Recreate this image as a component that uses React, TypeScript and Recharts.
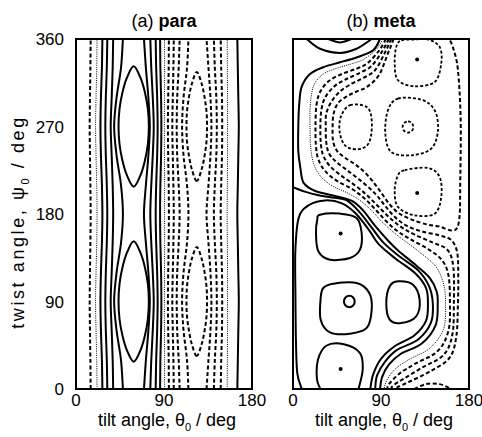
import React from 'react';
import { ScatterChart, Scatter, XAxis, YAxis, ReferenceArea } from 'recharts';

type P = [number, number];

const FONT = '"Liberation Sans", Arial, Helvetica, sans-serif';
const X_TICKS = [0, 90, 180];
const Y_TICKS = [0, 90, 180, 270, 360];
const PANEL_TITLES = [['(a) ', 'para'], ['(b) ', 'meta']];

// ---------- (a) para : theta of each contour at these psi values ----------
const PSI = [0, 30, 60, 90, 120, 150, 180, 210, 240, 270, 300, 330, 360];

const PARA_SOLID_THETA: number[][] = [
  [27, 26.5, 25.5, 25, 25.5, 26.5, 27, 26.5, 25.5, 25, 25.5, 26.5, 27],
  [32, 31.5, 30.5, 30, 30.5, 31.5, 32, 31.5, 30.5, 30, 30.5, 31.5, 32],
  [38, 37.5, 36.5, 35.5, 36.5, 37.5, 38, 37.5, 36.5, 35.5, 36.5, 37.5, 38],
  [48, 46, 41.5, 39, 41.5, 46, 48, 46, 41.5, 39, 41.5, 46, 48],
  [69.5, 71.5, 74, 75.5, 74, 71.5, 69.5, 71.5, 74, 75.5, 74, 71.5, 69.5],
  [76, 77, 78.5, 79.5, 78.5, 77, 76, 77, 78.5, 79.5, 78.5, 77, 76],
  [81.5, 82, 83, 83.5, 83, 82, 81.5, 82, 83, 83.5, 83, 82, 81.5],
  [86, 86.3, 87, 87.3, 87, 86.3, 86, 86.3, 87, 87.3, 87, 86.3, 86],
  [165, 165.5, 166, 166.5, 166, 165.5, 165, 165.5, 166, 166.5, 166, 165.5, 165],
];
const PARA_DASHED_THETA: number[][] = [
  [15, 14.7, 14.3, 14, 14.3, 14.7, 15, 14.7, 14.3, 14, 14.3, 14.7, 15],
  [95, 94.8, 94.3, 94, 94.3, 94.8, 95, 94.8, 94.3, 94, 94.3, 94.8, 95],
  [100, 99.6, 99, 98.5, 99, 99.6, 100, 99.6, 99, 98.5, 99, 99.6, 100],
  [106, 105, 103.5, 103, 103.5, 105, 106, 105, 103.5, 103, 103.5, 105, 106],
  [115, 113.5, 110, 108.5, 110, 113.5, 115, 113.5, 110, 108.5, 110, 113.5, 115],
  [133.5, 135.5, 137.5, 138.5, 137.5, 135.5, 133.5, 135.5, 137.5, 138.5, 137.5, 135.5, 133.5],
  [141, 142, 143.5, 144, 143.5, 142, 141, 142, 143.5, 144, 143.5, 142, 141],
  [148, 148.5, 149.3, 149.5, 149.3, 148.5, 148, 148.5, 149.3, 149.5, 149.3, 148.5, 148],
];
const PARA_DOTTED_THETA: number[][] = [
  [21.5, 21.2, 20.5, 20, 20.5, 21.2, 21.5, 21.2, 20.5, 20, 20.5, 21.2, 21.5],
  [90.6, 90.6, 90.5, 90.4, 90.5, 90.6, 90.6, 90.6, 90.5, 90.4, 90.5, 90.6, 90.6],
  [154.6, 154.8, 155, 155, 155, 154.8, 154.6, 154.8, 155, 155, 155, 154.8, 154.6],
];
const PARA_SOLID_LOOPS: P[][] = [
  [[59, 28], [52, 40], [47.5, 55], [44.5, 72], [43.5, 90], [44.5, 108], [47.5, 125], [52, 140], [59, 152], [66, 140], [70.5, 125], [73.5, 108], [74.5, 90], [73.5, 72], [70.5, 55], [66, 40]],
  [[59, 208], [52, 220], [47.5, 235], [44.5, 252], [43.5, 270], [44.5, 288], [47.5, 305], [52, 320], [59, 332], [66, 320], [70.5, 305], [73.5, 288], [74.5, 270], [73.5, 252], [70.5, 235], [66, 220]],
];
const PARA_DASHED_LOOPS: P[][] = [
  [[123.5, 34], [118.5, 46], [115.5, 60], [113.5, 75], [113, 90], [113.5, 105], [115.5, 120], [118.5, 134], [123.5, 146], [128.5, 134], [131.5, 120], [133.5, 105], [134, 90], [133.5, 75], [131.5, 60], [128.5, 46]],
  [[123.5, 214], [118.5, 226], [115.5, 240], [113.5, 255], [113, 270], [113.5, 285], [115.5, 300], [118.5, 314], [123.5, 326], [128.5, 314], [131.5, 300], [133.5, 285], [134, 270], [133.5, 255], [131.5, 240], [128.5, 226]],
];

// ---------- (b) meta : contour paths as [theta, psi] ----------
const META_SOLID_OPEN: P[][] = [
  [[9, 0], [4.4, 16], [3, 50], [2.5, 95], [2.4, 142], [5.8, 176], [16, 189], [33, 194], [50, 191], [63.7, 181], [77.4, 164], [87.6, 149], [105, 134], [125, 119], [136, 104], [138, 88], [136, 70], [124, 55], [104, 44], [90, 31], [82, 15], [79, 0]],
  [[14, 360], [27.6, 350], [48, 345.7], [65, 350], [80.5, 360]],
  [[0, 207.5], [4, 206], [12, 203], [25, 199.5], [40, 197], [55, 194], [68, 182], [80.5, 166], [92.5, 150.5], [108, 137], [128, 122], [139, 106], [143, 88], [141, 68], [128, 51], [106, 40], [94, 28], [86, 14], [84, 0]],
  [[89, 360], [82, 348.5], [65, 341], [48, 336], [31, 331], [17.4, 324], [8.9, 311], [6.4, 293.5], [5.4, 270], [5.4, 245], [7.5, 227.7], [10.9, 212], [22.8, 203.7], [43, 198.6], [60.3, 193.4], [72.3, 183], [84, 167.7], [97.8, 152], [108, 142], [126, 127], [140, 114], [147, 100], [148, 88], [146, 66], [132, 47], [110, 36], [98, 25], [91, 12], [89, 0]],
  [[28, 0], [24.5, 10], [25.5, 30], [34, 44.5], [52, 46], [68.5, 37], [71.3, 20], [67, 0]],
  [[36, 360], [48, 356.5], [60, 360]],
];
const META_SOLID_LOOPS: P[][] = [
  [[57.6, 95.8], [61.5, 94.1], [63.1, 90], [61.5, 85.9], [57.6, 84.2], [53.7, 85.9], [52.1, 90], [53.7, 94.1]],
  [[41.2, 108.3], [65.1, 109], [78, 98.8], [80.5, 81.6], [75.4, 62.8], [58.3, 56.9], [37.8, 58.3], [28.3, 71.3], [28.3, 93.6], [31, 103.9]],
  [[27.6, 179.3], [48, 180.4], [65, 176], [70.2, 160.5], [68.5, 143.3], [58.3, 134.8], [37.8, 133], [25.9, 141.7], [23.5, 160.5], [24.8, 174]],
  [[107.4, 110.8], [122.7, 107.3], [129.5, 91.9], [126, 74.8], [110.7, 67.9], [98.9, 71.3], [95.4, 88.5], [98.9, 105.7]],
];
const META_DOTTED_OPEN: P[][] = [
  [[92, 360], [85, 349], [72, 339], [60, 334.5], [45, 330], [31, 324], [22, 314], [18.5, 300], [17.4, 285], [17.4, 270], [18, 250], [21, 232], [28, 219], [40, 209], [55, 202], [67, 195], [79, 185], [92, 171], [108, 157], [128, 142], [146, 126], [154, 108], [156, 88], [154, 62], [140, 42], [118, 30], [104, 20], [96, 9], [93, 0]],
];
const META_DASHED_OPEN: P[][] = [
  [[95, 360], [88, 348], [76, 335], [65, 329.5], [50, 324], [37, 317], [28, 306], [24, 292], [23, 270], [23.5, 250], [26, 236], [33, 224], [45, 214], [60, 206], [72, 197], [83, 186], [94, 174], [106, 163], [120, 154], [138, 144], [152, 133], [159, 117], [160.5, 88], [159, 60], [148, 39], [125, 26], [109, 16], [99, 6], [96, 0]],
  [[98, 360], [91, 347], [80, 332], [65, 323.6], [53, 318], [42, 311], [33, 300], [29, 287], [28, 270], [28.5, 252], [31, 240], [38, 229], [50, 219], [64, 209], [76, 199], [87, 188], [98, 177], [110, 167], [124, 159], [142, 151], [158, 143], [164, 125], [164.5, 88], [163, 56], [154, 35], [132, 22], [114, 11], [103, 4], [100, 0]],
  [[100.5, 360], [94, 346], [84, 328], [72, 320], [60, 314], [48, 306], [39, 295], [34, 283], [33.5, 270], [34, 254], [37, 242], [45, 233], [58, 223], [72, 212], [84, 201], [93, 190], [103, 178], [116, 168], [132, 162], [150, 158], [162, 153], [168, 140], [169, 115], [168.7, 88], [167, 54], [160, 32], [140, 18], [120, 8], [107, 2], [104, 0]],
  [[103, 360], [97, 345], [88, 323], [76, 311], [65, 306], [55, 301], [46, 294], [41.5, 283], [40.5, 270], [41, 255], [45, 245], [53, 238], [65, 230], [77, 219], [88, 205], [98, 191], [108, 181], [122, 174], [138, 169], [150, 167], [162, 163], [168, 166], [170.5, 180], [171, 210], [171.5, 276], [168.7, 328], [164, 350], [160, 360]],
  [[124, 0], [136, 5], [150, 5], [162, 0]],
];
const META_DASHED_LOOPS: P[][] = [
  [[58.3, 291.9], [75.4, 290], [80.5, 276.4], [78.7, 255.9], [70.2, 247.2], [54.9, 249], [48, 262.7], [48.8, 279.8]],
  [[110.7, 358.5], [125, 359.5], [138, 359.5], [150, 351.9], [151.6, 334.7], [144.9, 315.8], [124.4, 311.4], [107.4, 317.6], [104, 334.7], [105.6, 351.9]],
  [[107.4, 298.7], [131.2, 297.6], [144.9, 286.7], [148.3, 266.2], [141.4, 247.2], [121, 240.4], [100.5, 243.8], [94.4, 262.7], [97.1, 286.7]],
  [[117.6, 275.3], [121.5, 273.6], [123.1, 269.5], [121.5, 265.4], [117.6, 263.7], [113.7, 265.4], [112.1, 269.5], [113.7, 273.6]],
  [[114.2, 225], [138, 227.4], [150, 218], [151.6, 197.5], [144.9, 180.3], [124.4, 178.7], [107.4, 187.2], [104, 204.4], [107.4, 219.9]],
];
const META_DOTS: P[] = [[48.7, 160], [48.7, 20.6], [127, 339], [127, 201.6]];

// ---------- curve factories (Catmull-Rom) ----------
type Ctx = { moveTo: (x: number, y: number) => void; bezierCurveTo: (a: number, b: number, c: number, d: number, e: number, f: number) => void; closePath: () => void };
const makeCurve = (closed: boolean) => (context: Ctx) => {
  let pts: number[][] = [];
  return {
    areaStart() {},
    areaEnd() {},
    lineStart() { pts = []; },
    point(x: number, y: number) { pts.push([+x, +y]); },
    lineEnd() {
      const n = pts.length;
      if (!n) return;
      context.moveTo(pts[0][0], pts[0][1]);
      const segs = closed ? n : n - 1;
      for (let i = 0; i < segs; i++) {
        const g = (k: number) => closed ? pts[((k % n) + n) % n] : pts[Math.max(0, Math.min(n - 1, k))];
        const p0 = g(i - 1), p1 = g(i), p2 = g(i + 1), p3 = g(i + 2);
        context.bezierCurveTo(
          p1[0] + (p2[0] - p0[0]) / 6, p1[1] + (p2[1] - p0[1]) / 6,
          p2[0] - (p3[0] - p1[0]) / 6, p2[1] - (p3[1] - p1[1]) / 6,
          p2[0], p2[1]);
      }
      if (closed) context.closePath();
    },
  };
};
const OPEN = makeCurve(false);
const CLOSED = makeCurve(true);

const SOLID = { stroke: '#000', strokeWidth: 2, fill: 'none' };
const DASHED = { stroke: '#000', strokeWidth: 2, strokeDasharray: '4 2.5', fill: 'none' };
const DASHED_FINE = { stroke: '#000', strokeWidth: 1.8, strokeDasharray: '3 2', fill: 'none' };
const DOTTED = { stroke: '#000', strokeWidth: 1, strokeDasharray: '1 1.2', fill: 'none' };

const noShape = () => <g />;
const dotShape = (p: any) => <circle cx={p.cx} cy={p.cy} r={2} fill="#000" />;

const toPts = (ln: P[]) => ln.map(([x, y]) => ({ x, y }));
const fromTheta = (th: number[]): P[] => th.map((t, i) => [t, PSI[i]] as P);

const series = (lines: P[][], style: any, curve: any, key: string) =>
  lines.map((ln, i) => (
    <Scatter key={`${key}${i}`} data={toPts(ln)} line={style} lineJointType={curve} shape={noShape} fill="none" isAnimationActive={false} />
  ));

const XTitle = (props: any) => {
  const vb = props.viewBox || { x: 0, width: 0, y: 0 };
  return (
    <text x={vb.x + vb.width / 2 + 3} y={vb.y + 37} textAnchor="middle" fontFamily={FONT} fontSize={18} fill="#000">
      tilt angle, θ<tspan fontSize={11} dy={5}>0</tspan><tspan dy={-5}> / deg</tspan>
    </text>
  );
};
const YTitle = () => (
  <text transform="translate(24,222) rotate(-90)" textAnchor="middle" fontFamily={FONT} fontSize={18} letterSpacing={2.6} fill="#000">
    twist angle, ψ<tspan fontSize={11} dy={5}>0</tspan><tspan dy={-5}> / deg</tspan>
  </text>
);

const tickStyle = { fill: '#000', fontSize: 17, fontFamily: FONT };

function Panel(props: { left: number; width: number; margin: any; showY: boolean; children: any }) {
  const { left, width, margin, showY, children } = props;
  return (
    <div style={{ position: 'absolute', left, top: 0 }}>
      <ScatterChart width={width} height={437} margin={margin}>
        <XAxis type="number" dataKey="x" domain={[0, 180]} ticks={X_TICKS} interval={0} axisLine={false} tickLine={false}
          tickSize={5} tickMargin={0} tick={tickStyle} height={30} label={<XTitle />} allowDataOverflow />
        {showY ? (
          <YAxis type="number" dataKey="y" domain={[0, 360]} ticks={Y_TICKS} interval={0} axisLine={false} tickLine={false}
            tickSize={6} tickMargin={6} tick={tickStyle} width={60} label={<YTitle />} allowDataOverflow />
        ) : (
          <YAxis type="number" dataKey="y" domain={[0, 360]} hide allowDataOverflow />
        )}
        {children}
        <ReferenceArea x1={0} x2={180} y1={0} y2={360} fill="none" fillOpacity={0} stroke="#000" strokeWidth={2} ifOverflow="visible" />
      </ScatterChart>
    </div>
  );
}

export default function App() {
  return (
    <div style={{ position: 'absolute', left: 0, top: 0, width: 482, height: 437, background: '#fff', fontFamily: FONT }}>
      {PANEL_TITLES.map((t, i) => (
        <div key={i} style={{ position: 'absolute', left: i === 0 ? 64 : 281, top: 10, width: 200, textAlign: 'center', fontSize: 18, lineHeight: '22px', color: '#000' }}>
          {t[0]}<b>{t[1]}</b>
        </div>
      ))}
      <Panel left={0} width={280} margin={{ top: 39, right: 28, bottom: 18, left: 16 }} showY>
        {series(PARA_SOLID_THETA.map(fromTheta), SOLID, OPEN, 'ps')}
        {series(PARA_DASHED_THETA.map(fromTheta), DASHED, OPEN, 'pd')}
        {series(PARA_DOTTED_THETA.map(fromTheta), DOTTED, OPEN, 'pz')}
        {series(PARA_SOLID_LOOPS, SOLID, CLOSED, 'psl')}
        {series(PARA_DASHED_LOOPS, DASHED, CLOSED, 'pdl')}
      </Panel>
      <Panel left={280} width={202} margin={{ top: 39, right: 13, bottom: 18, left: 13 }} showY={false}>
        {series(META_SOLID_OPEN, SOLID, OPEN, 'ms')}
        {series(META_SOLID_LOOPS, SOLID, CLOSED, 'msl')}
        {series(META_DOTTED_OPEN, DOTTED, OPEN, 'mz')}
        {series(META_DASHED_OPEN, DASHED, OPEN, 'md')}
        {series(META_DASHED_LOOPS, DASHED_FINE, CLOSED, 'mdl')}
        <Scatter data={toPts(META_DOTS)} shape={dotShape} fill="#000" isAnimationActive={false} />
      </Panel>
    </div>
  );
}
